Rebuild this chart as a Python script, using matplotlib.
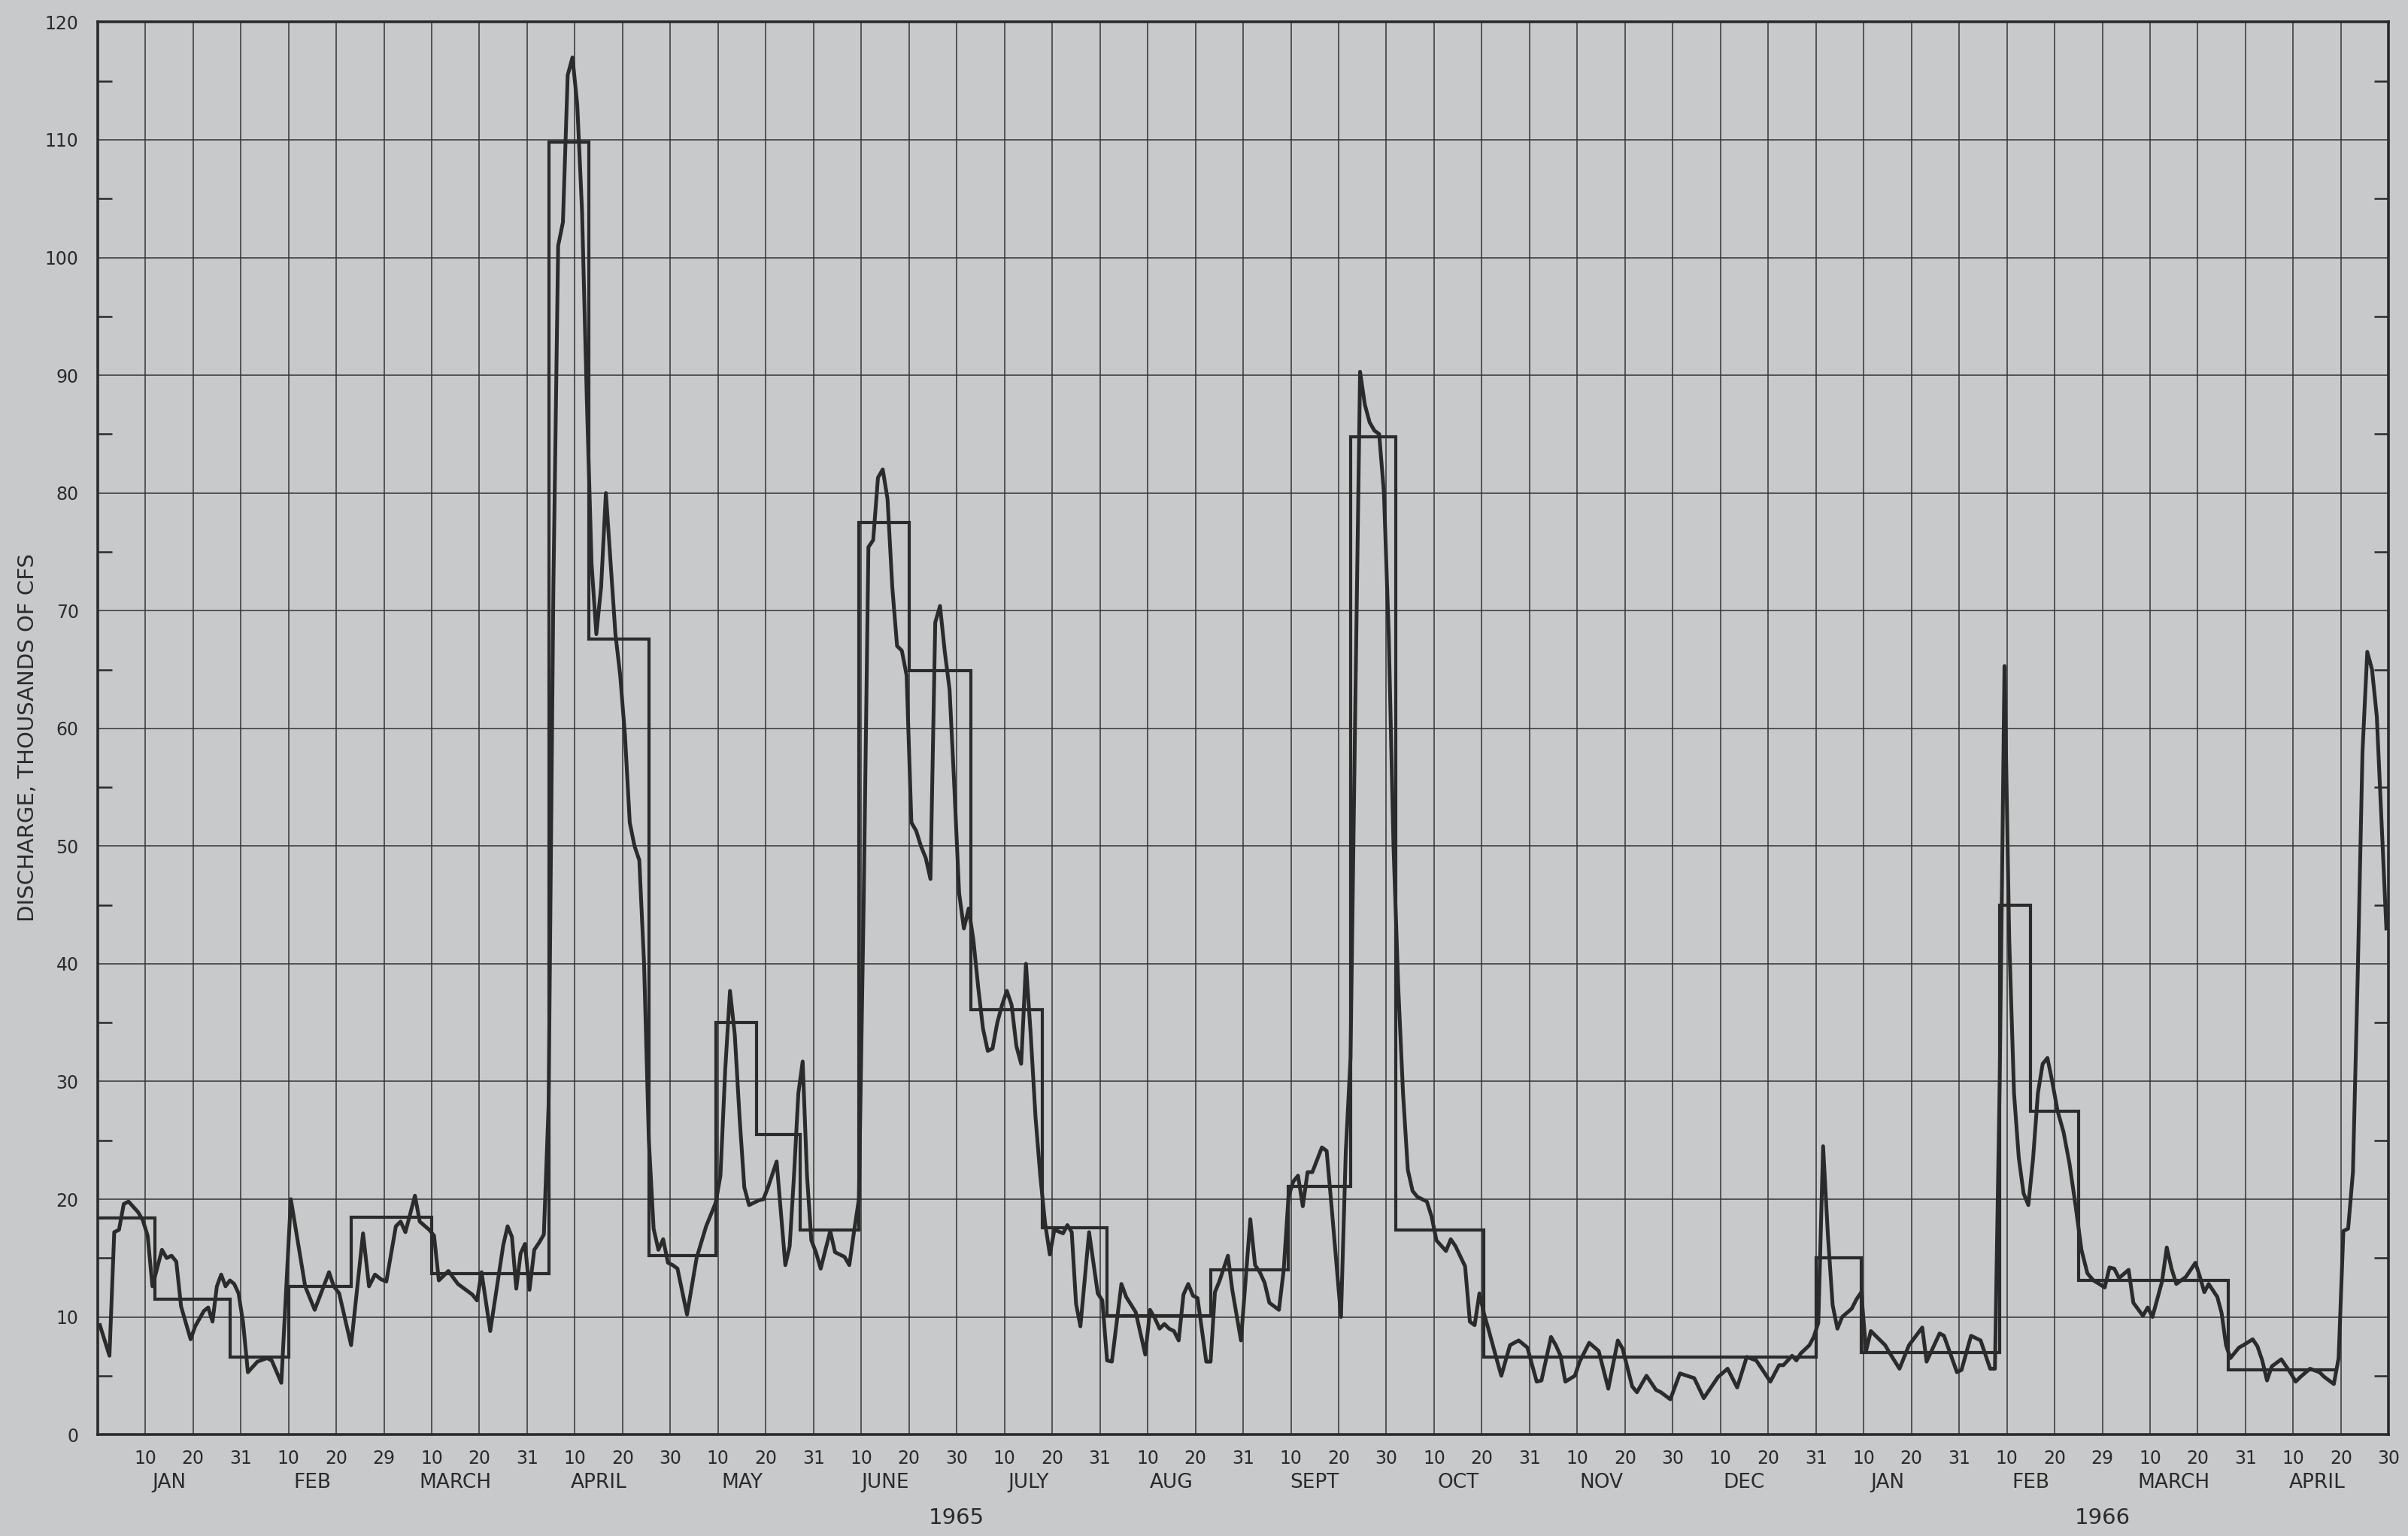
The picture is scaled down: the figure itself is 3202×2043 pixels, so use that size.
import numpy as np
import matplotlib.pyplot as plt

plt.rcParams['font.family'] = ['DejaVu Sans']

# Jan 1965 .. Apr 1966, each month split into three ten-day columns
month_days = [31, 28, 31, 30, 31, 30, 31, 31, 30, 31, 30, 31, 31, 28, 31, 30]
month_names = ['JAN', 'FEB', 'MARCH', 'APRIL', 'MAY', 'JUNE', 'JULY', 'AUG',
               'SEPT', 'OCT', 'NOV', 'DEC', 'JAN', 'FEB', 'MARCH', 'APRIL']
end_labels = ['31', '29', '31', '30', '31', '30', '31', '31',
              '30', '31', '30', '31', '31', '29', '31', '30']

# daily discharge, thousands of cfs: (day of month, flow)
jan_1965 = [(1, 9.3), (3, 6.7), (4, 17.2), (5, 17.4), (6, 19.6), (7, 19.8), (9, 18.9),
            (10, 18.2), (11, 16.9), (12, 12.6), (14, 15.7), (15, 15.0), (16, 15.2),
            (17, 14.7), (18, 10.9), (20, 8.1), (21, 9.2), (23, 10.5), (24, 10.8),
            (25, 9.6), (26, 12.6), (27, 13.6), (28, 12.6), (29, 13.1), (30, 12.8), (31, 12.0)]
feb_1965 = [(1, 9.5), (2, 5.3), (4, 6.2), (6, 6.5), (7, 6.3), (9, 4.4), (11, 20.0),
            (14, 12.6), (16, 10.6), (19, 13.8), (20, 12.6), (21, 12.0), (23, 7.6),
            (25, 17.1), (26, 12.6), (27, 13.6), (28, 13.2)]
mar_1965 = [(1, 13.0), (3, 17.7), (4, 18.1), (5, 17.2), (7, 20.3), (8, 18.1), (10, 17.4),
            (11, 16.9), (12, 13.1), (14, 13.9), (16, 12.8), (17, 12.5), (19, 11.9),
            (20, 11.4), (21, 13.8), (23, 8.8), (26, 16.1), (27, 17.7), (28, 16.8),
            (29, 12.4), (30, 15.4), (31, 16.2)]
apr_1965 = [(1, 12.3), (2, 15.7), (3, 16.3), (4, 17.0), (5, 28.0), (6, 72.0), (7, 101.0),
            (8, 103.0), (9, 115.5), (10, 117.0), (11, 113.0), (12, 104.0), (13, 88.0),
            (14, 74.0), (15, 68.0), (16, 72.0), (17, 80.0), (18, 74.0), (19, 68.0),
            (20, 64.5), (21, 59.4), (22, 52.0), (23, 50.0), (24, 48.8), (25, 40.0),
            (26, 25.0), (27, 17.5), (28, 15.7), (29, 16.6), (30, 14.6)]
may_1965 = [(1, 14.4), (2, 14.1), (4, 10.2), (6, 15.0), (8, 17.7), (10, 19.7), (11, 22.0),
            (12, 31.0), (13, 37.7), (14, 34.0), (15, 27.0), (16, 21.0), (17, 19.5),
            (19, 19.9), (20, 20.0), (21, 21.0), (23, 23.2), (25, 14.4), (26, 16.0),
            (27, 22.0), (28, 29.0), (29, 31.7), (30, 22.0), (31, 16.5)]
jun_1965 = [(1, 15.5), (2, 14.1), (4, 17.3), (5, 15.5), (7, 15.1), (8, 14.4), (9, 17.3),
            (10, 20.0), (11, 45.0), (12, 75.4), (13, 76.0), (14, 81.3), (15, 82.0),
            (16, 79.5), (17, 72.0), (18, 67.0), (19, 66.6), (20, 64.5), (21, 52.0),
            (22, 51.3), (23, 50.0), (24, 49.0), (25, 47.2), (26, 69.0), (27, 70.4),
            (28, 66.5), (29, 63.3), (30, 55.0)]
jul_1965 = [(1, 46.0), (2, 43.0), (3, 44.7), (4, 42.0), (5, 38.0), (6, 34.5), (7, 32.6),
            (8, 32.8), (9, 35.0), (10, 36.5), (11, 37.7), (12, 36.5), (13, 33.0),
            (14, 31.5), (15, 40.0), (16, 34.0), (17, 27.0), (18, 22.0), (19, 18.0),
            (20, 15.3), (21, 17.4), (23, 17.1), (24, 17.8), (25, 17.2), (26, 11.1),
            (27, 9.2), (29, 17.2), (31, 12.0)]
aug_1965 = [(1, 11.4), (2, 6.3), (3, 6.2), (5, 12.8), (6, 11.7), (8, 10.4), (10, 6.8),
            (11, 10.6), (12, 9.9), (13, 9.0), (14, 9.4), (15, 9.0), (16, 8.8), (17, 8.0),
            (18, 11.9), (19, 12.8), (20, 11.8), (21, 11.6), (23, 6.2), (24, 6.2),
            (25, 12.1), (26, 13.0), (28, 15.2), (29, 12.3), (31, 8.0)]
sep_1965 = [(2, 18.3), (3, 14.4), (4, 13.8), (5, 12.9), (6, 11.2), (8, 10.6), (9, 14.0),
            (10, 20.2), (11, 21.5), (12, 22.0), (13, 19.4), (14, 22.3), (15, 22.3),
            (17, 24.4), (18, 24.1), (19, 19.5), (21, 10.0), (22, 24.0), (23, 32.0),
            (24, 62.0), (25, 90.3), (26, 87.5), (27, 86.0), (28, 85.3), (29, 85.0), (30, 80.0)]
oct_1965 = [(1, 68.0), (2, 50.0), (3, 38.0), (4, 29.0), (5, 22.5), (6, 20.7), (7, 20.2),
            (9, 19.8), (10, 18.5), (11, 16.5), (13, 15.6), (14, 16.6), (15, 16.0),
            (17, 14.3), (18, 9.6), (19, 9.3), (20, 12.0), (21, 10.3), (22, 9.0),
            (24, 6.3), (25, 5.0), (27, 7.6), (29, 8.0), (31, 7.4)]
nov_1965 = [(2, 4.5), (3, 4.6), (5, 8.3), (6, 7.6), (7, 6.7), (8, 4.5), (10, 5.0),
            (11, 6.2), (13, 7.8), (15, 7.1), (17, 3.9), (19, 8.0), (20, 7.3), (22, 4.1),
            (23, 3.6), (25, 5.0), (27, 3.8), (28, 3.6), (30, 3.0)]
dec_1965 = [(2, 5.2), (5, 4.8), (7, 3.1), (10, 4.9), (12, 5.6), (14, 4.0), (16, 6.6),
            (18, 6.3), (21, 4.5), (23, 5.9), (24, 5.9), (26, 6.7), (27, 6.3), (28, 6.9),
            (30, 7.6), (31, 8.3)]
jan_1966 = [(1, 9.5), (2, 24.5), (3, 17.0), (4, 11.0), (5, 9.0), (6, 10.0), (8, 10.7),
            (9, 11.5), (10, 12.1), (11, 7.1), (12, 8.8), (15, 7.6), (16, 6.9), (18, 5.6),
            (20, 7.6), (23, 9.1), (24, 6.2), (27, 8.6), (28, 8.4), (31, 5.3)]
feb_1966 = [(1, 5.5), (3, 8.4), (5, 8.0), (7, 5.6), (8, 5.6), (9, 30.0), (10, 65.3),
            (11, 42.0), (12, 29.0), (13, 23.5), (14, 20.5), (15, 19.5), (16, 23.5),
            (17, 29.0), (18, 31.5), (19, 32.0), (20, 30.0), (21, 27.5), (22, 25.7),
            (23, 23.0), (24, 19.5), (25, 15.7), (26, 13.7), (27, 13.1), (28, 12.8)]
mar_1966 = [(1, 12.5), (2, 14.2), (3, 14.1), (4, 13.3), (6, 14.0), (7, 11.2), (9, 10.1),
            (10, 10.8), (11, 10.0), (13, 13.0), (14, 15.9), (15, 14.1), (16, 12.8),
            (18, 13.4), (20, 14.6), (21, 13.4), (22, 12.1), (23, 12.8), (25, 11.7),
            (26, 10.3), (27, 7.6), (28, 6.5), (30, 7.4), (31, 7.6)]
apr_1966 = [(2, 8.1), (3, 7.5), (4, 6.3), (5, 4.6), (6, 5.8), (8, 6.4), (10, 5.2),
            (11, 4.5), (12, 4.9), (14, 5.6), (16, 5.3), (17, 4.9), (19, 4.3), (20, 6.5),
            (21, 17.3), (22, 17.5), (23, 22.3), (24, 39.0), (25, 58.0), (26, 66.5),
            (27, 65.0), (28, 61.0), (29, 52.0), (30, 43.0)]

daily = [jan_1965, feb_1965, mar_1965, apr_1965, may_1965, jun_1965, jul_1965, aug_1965,
         sep_1965, oct_1965, nov_1965, dec_1965, jan_1966, feb_1966, mar_1966, apr_1966]

# mean flow over each period; edges in days since 1 Jan 1965
step_edges = [0, 12, 28.5, 41, 53.5, 69, 94.5, 103, 115.5, 129.5, 138, 148, 160.5, 171,
              184, 199, 213.5, 235.5, 252.5, 265.5, 275, 293.5, 365, 374.5, 404.5, 411,
              420, 451, 474]
step_means = [18.4, 11.5, 6.6, 12.6, 18.5, 13.7, 109.8, 67.6, 15.2, 35.0, 25.5, 17.4,
              77.5, 64.9, 36.1, 17.6, 10.1, 14.0, 21.1, 84.8, 17.4, 6.6, 15.0, 7.0,
              45.0, 27.5, 13.1, 5.5]

month_start = np.concatenate([[0], np.cumsum(month_days)])


def column_x(month, c):
    # position on the ten-day grid for c days into the month
    n = month_days[month]
    if c <= 20:
        return 3 * month + c / 10
    return 3 * month + 2 + (c - 20) / (n - 20)


def record_x(t):
    m = min(int(np.searchsorted(month_start, t, side='right')) - 1, len(month_days) - 1)
    return column_x(m, t - month_start[m])


day_x, day_q = [], []
for m, pts in enumerate(daily):
    for d, q in pts:
        day_x.append(column_x(m, d - 0.5))
        day_q.append(q)

edge_x = [record_x(t) for t in step_edges]

paper = '#c8c9cb'
ink = '#2b2b2b'

fig = plt.figure(figsize=(16.01, 10.215), dpi=200, facecolor=paper)
ax = fig.add_axes([0.0405, 0.066, 0.9515, 0.9196], facecolor=paper)

ax.plot(day_x, day_q, color=ink, lw=1.8, solid_joinstyle='round', zorder=3)
ax.stairs(step_means, edge_x, baseline=None, color=ink, lw=1.5, zorder=3)

ax.set_xlim(0, 48)
ax.set_ylim(0, 120)

day_labels = []
for m in range(len(month_days)):
    day_labels += ['10', '20', end_labels[m]]
ax.set_xticks(np.arange(1, 49))
ax.set_xticklabels(day_labels)
ax.set_yticks(np.arange(0, 121, 10))
ax.set_yticks(np.arange(5, 120, 10), minor=True)
ax.grid(which='major', color='#333333', lw=0.55)
ax.set_axisbelow(True)

ax.tick_params(axis='x', length=0, pad=7, labelsize=8.5, labelcolor=ink)
ax.tick_params(axis='y', which='major', length=0, pad=9, labelsize=8.5, labelcolor=ink)
ax.tick_params(axis='y', which='minor', direction='in', length=7, width=0.9,
               color=ink, left=True, right=True)
for s in ax.spines.values():
    s.set_color(ink)
    s.set_linewidth(1.3)

for m, name in enumerate(month_names):
    ax.annotate(name, xy=(3 * m + 1.5, 0), xycoords=('data', 'axes fraction'),
                xytext=(0, -23), textcoords='offset points',
                ha='center', va='center', fontsize=9.5, color=ink)

for x, year in [(18, '1965'), (42, '1966')]:
    ax.annotate(year, xy=(x, 0), xycoords=('data', 'axes fraction'),
                xytext=(0, -40), textcoords='offset points',
                ha='center', va='center', fontsize=10.5, color=ink)

fig.text(0.0116, 0.52, 'DISCHARGE, THOUSANDS OF CFS', rotation=90,
         ha='center', va='center', fontsize=10.5, color=ink)

fig.savefig('out.png', dpi=200, facecolor=paper)
